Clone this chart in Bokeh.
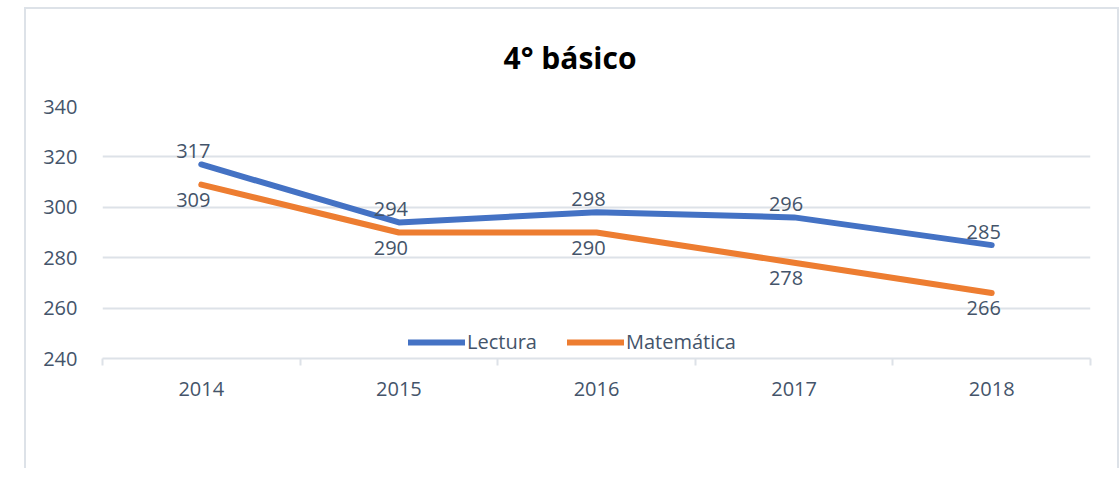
from bokeh.plotting import figure
from bokeh.models import (ColumnDataSource, FixedTicker, Legend, LegendItem, Title,
                          LabelSet, Range1d)
from bokeh.core.properties import value
from bokeh.embed import file_html
from bokeh.resources import INLINE

years = ["2014", "2015", "2016", "2017", "2018"]
lectura = [317, 294, 298, 296, 285]
matematica = [309, 290, 290, 278, 266]
y_ticks = [240, 260, 280, 300, 320, 340]
title_text = "4° básico"

FONT = "Open Sans"
TXT = "#44546A"
GRID = "#DDE2E8"
BLUE = "#4472C4"
ORANGE = "#ED7D31"

xs = list(range(len(years)))

p = figure(width=1091, height=468, frame_width=988, frame_height=252,
           output_backend="svg", toolbar_location=None,
           x_range=Range1d(-0.5, len(years) - 0.5), y_range=Range1d(240, 340),
           min_border_left=76, min_border_right=27, min_border_top=96, min_border_bottom=110)
p.title = None
p.outline_line_color = None
p.background_fill_color = "white"
p.border_fill_color = "white"
p.styles = {"margin-left": "24px", "margin-top": "7px",
            "border-left": "2px solid #DDE2E8", "border-top": "2px solid #DDE2E8",
            "border-right": "2px solid #DDE2E8"}

# axes
p.xaxis.ticker = FixedTicker(ticks=xs, minor_ticks=[x - 0.5 for x in xs] + [xs[-1] + 0.5])
p.xaxis.major_label_overrides = {i: y for i, y in enumerate(years)}
p.xaxis.major_tick_line_color = None
p.xaxis.major_tick_out = 0
p.xaxis.major_tick_in = 0
p.xaxis.minor_tick_line_color = GRID
p.xaxis.minor_tick_line_width = 2
p.xaxis.minor_tick_out = 7
p.xaxis.minor_tick_in = 0
p.xaxis.axis_line_color = GRID
p.xaxis.axis_line_width = 2
p.xaxis.major_label_text_font = FONT
p.xaxis.major_label_text_font_size = "20px"
p.xaxis.major_label_text_color = TXT
p.xaxis.major_label_standoff = 16

p.yaxis.ticker = FixedTicker(ticks=y_ticks)
p.yaxis.axis_line_color = None
p.yaxis.major_tick_line_color = None
p.yaxis.minor_tick_line_color = None
p.yaxis.major_label_text_font = FONT
p.yaxis.major_label_text_font_size = "20px"
p.yaxis.major_label_text_color = TXT
p.yaxis.major_label_standoff = 19

p.xgrid.grid_line_color = None
p.ygrid.grid_line_color = GRID
p.ygrid.grid_line_width = 2

src = ColumnDataSource(dict(x=xs, lec=lectura, mat=matematica,
                            lec_t=[str(v) for v in lectura],
                            mat_t=[str(v) for v in matematica]))

r1 = p.line("x", "lec", source=src, line_color=BLUE, line_width=6, line_cap="round", line_join="round")
r2 = p.line("x", "mat", source=src, line_color=ORANGE, line_width=6, line_cap="round", line_join="round")

p.add_layout(LabelSet(x="x", y="lec", text="lec_t", source=src, x_offset=-8, y_offset=13,
                      text_align="center", text_baseline="middle", text_font=value(FONT),
                      text_font_size="20px", text_color=TXT))
p.add_layout(LabelSet(x="x", y="mat", text="mat_t", source=src, x_offset=-8, y_offset=-15,
                      text_align="center", text_baseline="middle", text_font=value(FONT),
                      text_font_size="20px", text_color=TXT))

# title
p.add_layout(Title(text=title_text, align="left", offset=401, text_font=FONT,
                   text_font_size="30px", text_font_style="bold", text_color="black",
                   vertical_align="top", standoff=54), "above")

legend = Legend(items=[LegendItem(label="Lectura", renderers=[r1]),
                       LegendItem(label="Matemática", renderers=[r2])],
                orientation="horizontal", location=(306, 3),
                glyph_width=57, glyph_height=20, label_height=20,
                label_standoff=2, spacing=30, padding=0, margin=0,
                border_line_color=None, background_fill_alpha=0,
                label_text_font=FONT, label_text_font_size="20px", label_text_color=TXT)
p.add_layout(legend, "center")

open("out.html", "w").write(file_html(p, INLINE))
